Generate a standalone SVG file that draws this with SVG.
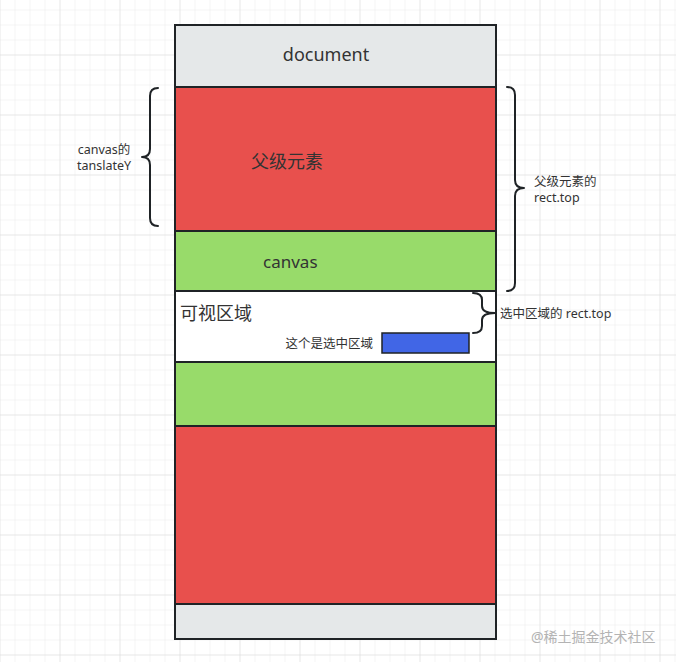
<svg xmlns="http://www.w3.org/2000/svg" width="676" height="662" viewBox="0 0 676 662">
<defs>
<pattern id="grid" x="14.5" y="9.5" width="15" height="15" patternUnits="userSpaceOnUse">
<path d="M0,0 H15 M0,0 V15" fill="none" stroke="#e9e9e9" stroke-width="1"/>
</pattern>
<pattern id="gridMajor" x="-0.5" y="-5.5" width="60" height="60" patternUnits="userSpaceOnUse">
<path d="M0,0 H60 M0,0 V60" fill="none" stroke="#dedede" stroke-width="1"/>
</pattern>
<style>
.t{font-family:"Noto Sans","Noto Sans CJK SC",sans-serif;fill:#333;}
.box{stroke:#1f2326;stroke-width:2;}
.brace{fill:none;stroke:#1f2326;stroke-width:2;stroke-linecap:round;stroke-linejoin:round;}
</style>
</defs>
<rect width="676" height="662" fill="#ffffff"/>
<rect width="676" height="662" fill="url(#grid)"/>
<rect width="676" height="662" fill="url(#gridMajor)"/>

<g id="document">
<rect class="box" x="175" y="25" width="321" height="62" fill="#e5e8e9"/>
<text class="t" x="326" y="61" font-size="18" text-anchor="middle">document</text>
</g>
<g id="parent-top">
<rect class="box" x="175" y="87" width="321" height="144" fill="#e8504d"/>
<text class="t" x="287" y="168" font-size="18" text-anchor="middle">父级元素</text>
</g>
<g id="canvas-top">
<rect class="box" x="175" y="231" width="321" height="60" fill="#98db6a"/>
<text class="t" x="263" y="268" font-size="17">canvas</text>
</g>
<g id="visible">
<rect class="box" x="175" y="291" width="321" height="71" fill="#ffffff"/>
<text class="t" x="180" y="320" font-size="18">可视区域</text>
<text class="t" x="373" y="348" font-size="12.5" text-anchor="end">这个是选中区域</text>
<rect id="selected" x="382" y="333" width="87" height="20" fill="#4166e6" stroke="#1f2326" stroke-width="1.5"/>
</g>
<g id="canvas-bottom">
<rect class="box" x="175" y="362" width="321" height="64" fill="#98db6a"/>
</g>
<g id="parent-bottom">
<rect class="box" x="175" y="426" width="321" height="178" fill="#e8504d"/>
</g>
<g id="document-bottom">
<rect class="box" x="175" y="604" width="321" height="35" fill="#e5e8e9"/>
</g>

<g id="connectors">
<path class="brace" d="M158,88 Q150,88 150,96 L150,149 Q150,157 142,157 Q150,157 150,165 L150,218 Q150,226 158,226"/>
<path class="brace" d="M507,87 Q515,87 515,95 L515,180 Q515,188 524,188 Q515,188 515,196 L515,283 Q515,291 507,291"/>
<path class="brace" d="M473,293 Q482,293 482,300 L482,306 Q482,313 495,313 Q482,313 482,320 L482,326 Q482,333 473,333"/>
</g>

<g id="labels">
<text class="t" x="104" y="154" font-size="12.5" text-anchor="middle">canvas的</text>
<text class="t" x="104" y="170" font-size="12.5" text-anchor="middle">tanslateY</text>
<text class="t" x="534" y="186" font-size="12.5">父级元素的</text>
<text class="t" x="534" y="202" font-size="12.5">rect.top</text>
<text class="t" x="500" y="318" font-size="12.5">选中区域的 rect.top</text>
</g>
<text font-family="Noto Sans, Noto Sans CJK SC, sans-serif" x="531" y="642" font-size="14" fill="#b3b3b3">@稀土掘金技术社区</text>
</svg>
